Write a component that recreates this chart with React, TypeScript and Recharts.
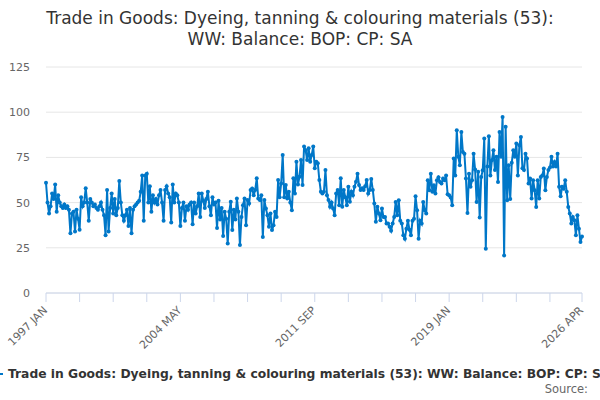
import React from 'react';
import { LineChart, Line, XAxis, YAxis, CartesianGrid } from 'recharts';

document.body.style.margin = '0';

const TITLE_LINES = [
  'Trade in Goods: Dyeing, tanning & colouring materials (53):',
  'WW: Balance: BOP: CP: SA',
];
const SERIES_NAME = 'Trade in Goods: Dyeing, tanning & colouring materials (53): WW: Balance: BOP: CP: SA';

const START_YEAR = 1997;
const MONTHS = ['JAN', 'FEB', 'MAR', 'APR', 'MAY', 'JUN', 'JUL', 'AUG', 'SEP', 'OCT', 'NOV', 'DEC'];

// monthly balance, 1997 JAN .. 2026 APR
const balance = [
  61, 50, 44, 48, 55, 52, 60, 45, 54, 50, 48, 47,
  49, 47, 48, 46, 33, 44, 45, 34, 46, 41, 35, 53,
  48, 50, 58, 50, 40, 52, 50, 48, 49, 47, 46, 48,
  50, 46, 43, 32, 57, 34, 47, 55, 44, 52, 43, 47,
  62, 50, 43, 40,
  43, 46, 37, 47, 33, 46, 48, 49, 50, 51,
  56, 65, 40, 65, 66, 50, 59, 45, 54, 50,
  52, 49, 54, 57, 50, 40, 57, 59, 55, 53,
  39, 60, 50, 55, 54, 50, 37, 47, 50, 40,
  48, 46, 49, 50, 38, 50, 44, 48, 55, 42,
  55, 51, 47, 52, 56, 48, 43, 53, 49, 50,
  36, 51,
  40.7, 47, 31.5, 45, 41, 27.4, 45, 50.5, 34.8, 46,
  40.7, 52.3, 45, 26.5, 42, 48.6, 52.3, 37.5, 51.4, 49.5,
  57, 57.8, 54, 57, 63.4, 52.3, 51.4, 54, 31, 51.4,
  46.8, 43, 36.6, 44, 34.8, 37.5, 45, 42, 62.5, 53,
  60.6, 76.3, 53, 59.7, 52.3, 56, 50, 45.8, 63.4, 55,
  72.6, 60, 64.3, 73.5, 59.7,
  81, 79, 73.5, 80, 72.6, 76.3, 81, 69, 72.6, 71.7,
  62.5, 56, 55, 56, 68, 54, 51.4, 47.7, 50, 46.8,
  43, 55, 57, 48.6, 63.4, 47.7, 57, 53, 48.6, 58.8,
  50.5, 56, 54, 58.8, 61.5, 66, 59.7, 57, 58, 57,
  59, 62.5, 55, 57, 63, 57, 49.5, 39.4, 47.7, 44,
  40.3, 46.8, 42, 42, 38.5, 38.5, 36.6, 34.4, 38.5, 42,
  50.4, 43, 51.3, 40, 38.4, 32, 30, 35.6, 40, 35,
  32, 40, 41, 53.5, 45.8, 30, 40, 38.4, 50.4, 45.8,
  44, 62.4, 56.8, 66, 56, 59.6, 55, 62.4, 64, 61.4,
  60.5, 63.3, 62.4, 65, 54.6, 54, 52.8, 48.5, 74.4, 65,
  90, 75.3, 70.7, 89, 78, 77, 63.3, 44.3, 66, 58.7,
  62.4, 77, 68.3, 50.4, 67, 41.7, 64.2, 67.9, 85.4,
  24.5, 70, 86.7, 65, 73.4, 79, 68, 75.3, 61.4, 89,
  75.3, 97.4, 20.8, 92, 51.3, 70.7, 52, 72, 79, 75.3,
  82.7, 65, 81.7, 86.3, 69, 68, 77, 74.4, 60.5, 63.3,
  52.2, 62.4, 56.8, 47.6, 62.4, 52.2, 64.2, 65, 68.8, 56.8,
  64.2, 68, 69.4, 75.3, 70, 72.5, 70, 77, 58.7, 53.5,
  58.7, 57.7, 62.4, 56, 47.6, 44, 38.4, 42, 40.2, 32,
  43, 35.6, 28.2, 31.3,
];

const yTicks = [0, 25, 50, 75, 100, 125];
const xTickStep = 22;
const xLabelEvery = 4;

const LINE_COLOR = '#0077c8';
const FONT = '"DejaVu Sans", sans-serif';

const lastIdx = balance.length - 1;
const monthLabel = (i: number) => `${START_YEAR + Math.floor(i / 12)} ${MONTHS[i % 12]}`;

const data = balance.map((v, i) => ({ idx: i, label: monthLabel(i), value: v }));

const xTicks: number[] = [];
for (let t = 0; t < lastIdx; t += xTickStep) xTicks.push(t);
xTicks.push(lastIdx);
const labelled = new Set(xTicks.filter((_, k) => k % xLabelEvery === 0 || k === xTicks.length - 1));

const XTick = (props: any) => {
  const { x, y, payload } = props;
  if (!labelled.has(payload.value)) return <g />;
  const tx = x + 2;
  const ty = y + 7;
  return (
    <text
      x={tx}
      y={ty}
      transform={`rotate(-45 ${tx} ${ty})`}
      textAnchor="end"
      fontSize={11}
      fill="#666666"
      fontFamily={FONT}
    >
      {monthLabel(payload.value)}
    </text>
  );
};

export default function App() {
  return (
    <div style={{ position: 'relative', width: 600, height: 400, background: '#fff', overflow: 'hidden' }}>
      <LineChart
        width={600}
        height={400}
        data={data}
        margin={{ top: 67, right: 18, bottom: 77, left: 0 }}
      >
        <CartesianGrid vertical={false} stroke="#e6e6e6" strokeDasharray="" />
        <XAxis
          dataKey="idx"
          type="number"
          domain={[0, lastIdx]}
          ticks={xTicks}
          interval={0}
          height={30}
          tickSize={9}
          stroke="#ccd6eb"
          tickLine={{ stroke: '#ccd6eb' }}
          axisLine={{ stroke: '#ccd6eb' }}
          tick={<XTick />}
        />
        <YAxis
          type="number"
          domain={[0, 125]}
          ticks={yTicks}
          interval={0}
          width={46}
          axisLine={false}
          tickLine={false}
          tickSize={0}
          tickMargin={16}
          tick={{ fill: '#666666', fontSize: 11, fontFamily: FONT }}
        />
        <Line
          type="linear"
          dataKey="value"
          stroke={LINE_COLOR}
          strokeWidth={2}
          dot={{ r: 2, fill: LINE_COLOR, stroke: LINE_COLOR, strokeWidth: 0 }}
          activeDot={false}
          isAnimationActive={false}
        />
      </LineChart>
      <svg
        width={600}
        height={400}
        style={{ position: 'absolute', left: 0, top: 0, pointerEvents: 'none' }}
      >
        {TITLE_LINES.map((t, k) => (
          <text
            key={k}
            x={300}
            y={24 + k * 21}
            textAnchor="middle"
            fontSize={17}
            fill="#333333"
            fontFamily={FONT}
          >
            {t}
          </text>
        ))}
        <line x1={-13} y1={374} x2={3} y2={374} stroke={LINE_COLOR} strokeWidth={2} />
        <text x={8} y={378} fontSize={12.3} fontWeight="bold" fill="#333333" fontFamily={FONT}>
          {SERIES_NAME}
        </text>
        <text x={588} y={393} textAnchor="end" fontSize={11.5} fill="#666666" fontFamily={FONT}>
          Source:
        </text>
      </svg>
    </div>
  );
}
